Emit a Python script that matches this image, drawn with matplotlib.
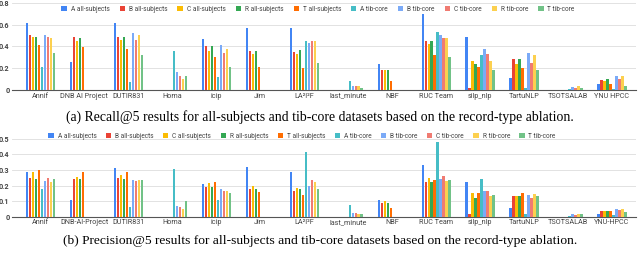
import numpy as np
import matplotlib
matplotlib.use('Agg')
import matplotlib.pyplot as plt

# Teams (x categories)
teams_recall = ['Annif', 'DNB AI Project', 'DUTIR831', 'Homa', 'icip', 'Jim', 'LA²I²F',
                'last_minute', 'NBF', 'RUC Team', 'silp_nlp', 'TartuNLP', 'TSOTSALAB', 'YNU HPCC']
teams_prec = ['Annif', 'DNB-AI-Project', 'DUTIR831', 'Homa', 'icip', 'Jim', 'LA²I²F',
              'last_minute', 'NBF', 'RUC Team', 'silp_nlp', 'TartuNLP', 'TSOTSALAB', 'YNU-HPCC']

series_names = ['A all-subjects', 'B all-subjects', 'C all-subjects', 'R all-subjects', 'T all-subjects',
                'A tib-core', 'B tib-core', 'C tib-core', 'R tib-core', 'T tib-core']
colors = ['#4285F4', '#EA4335', '#FBBC04', '#34A853', '#FF6D01',
          '#46BDC6', '#7BAAF7', '#F07B72', '#FCD04F', '#71C287']

n = None
# Recall@5, one row per team, columns follow series_names
recall = [
    [0.61, 0.50, 0.49, 0.49, 0.41, 0.21, 0.50, 0.49, 0.48, 0.34],  # Annif
    [0.26, 0.49, 0.45, 0.48, 0.39, n, n, n, n, n],                 # DNB AI Project
    [0.61, 0.49, 0.46, 0.49, 0.38, 0.07, 0.52, 0.46, 0.50, 0.32],  # DUTIR831
    [n, n, n, n, n, 0.36, 0.16, 0.13, 0.10, 0.13],                 # Homa
    [0.47, 0.40, 0.36, 0.40, 0.30, 0.12, 0.41, 0.34, 0.38, 0.21],  # icip
    [0.57, 0.36, 0.33, 0.36, 0.21, n, n, n, n, n],                 # Jim
    [0.57, 0.35, 0.33, 0.37, 0.20, 0.45, 0.43, 0.45, 0.45, 0.25],  # LA2I2F
    [n, n, n, n, n, 0.08, 0.04, 0.04, 0.04, 0.02],                 # last_minute
    [0.24, 0.18, 0.18, 0.18, 0.08, n, n, n, n, n],                 # NBF
    [0.70, 0.45, 0.42, 0.45, 0.32, 0.53, 0.50, 0.48, 0.48, 0.30],  # RUC Team
    [0.49, 0.02, 0.27, 0.24, 0.21, 0.32, 0.38, 0.33, 0.27, 0.18],  # silp_nlp
    [0.11, 0.28, 0.24, 0.28, 0.20, 0.02, 0.34, 0.25, 0.32, 0.18],  # TartuNLP
    [n, n, n, n, n, 0.01, 0.03, 0.02, 0.04, 0.02],                 # TSOTSALAB
    [0.05, 0.09, 0.08, 0.10, 0.05, 0.01, 0.13, 0.10, 0.13, 0.04],  # YNU HPCC
]

# Precision@5
precision = [
    [0.29, 0.25, 0.29, 0.24, 0.30, 0.18, 0.23, 0.25, 0.22, 0.245],     # Annif
    [0.11, 0.24, 0.255, 0.24, 0.29, n, n, n, n, n],                    # DNB-AI-Project
    [0.31, 0.25, 0.27, 0.24, 0.29, 0.06, 0.235, 0.23, 0.235, 0.235],   # DUTIR831
    [n, n, n, n, n, 0.305, 0.07, 0.06, 0.047, 0.10],                   # Homa
    [0.21, 0.19, 0.215, 0.19, 0.225, 0.11, 0.18, 0.165, 0.165, 0.155], # icip
    [0.32, 0.18, 0.20, 0.18, 0.16, n, n, n, n, n],                     # Jim
    [0.29, 0.165, 0.185, 0.175, 0.14, 0.415, 0.20, 0.235, 0.22, 0.18], # LA2I2F
    [n, n, n, n, n, 0.075, 0.025, 0.025, 0.02, 0.02],                  # last_minute
    [0.11, 0.085, 0.10, 0.085, 0.055, n, n, n, n, n],                  # NBF
    [0.33, 0.225, 0.25, 0.22, 0.235, 0.48, 0.245, 0.26, 0.23, 0.235],  # RUC Team
    [0.22, 0.015, 0.15, 0.12, 0.15, 0.245, 0.165, 0.165, 0.135, 0.14], # silp_nlp
    [0.055, 0.13, 0.135, 0.13, 0.15, 0.02, 0.14, 0.12, 0.145, 0.13],   # TartuNLP
    [n, n, n, n, n, 0.005, 0.017, 0.013, 0.015, 0.017],                # TSOTSALAB
    [0.02, 0.035, 0.035, 0.035, 0.035, 0.01, 0.05, 0.045, 0.047, 0.03],# YNU-HPCC
]

recall_ticks = [0, 0.2, 0.4, 0.6, 0.8]
prec_ticks = [0, 0.1, 0.2, 0.3, 0.4, 0.5]

plt.rcParams['font.family'] = ['Roboto', 'DejaVu Sans']

fig = plt.figure(figsize=(6.4, 2.54), dpi=100)


def draw(ax, teams, data, yticks, legend_y, legend_x, colspace):
    vals = np.array([[np.nan if v is None else v for v in row] for row in data], dtype=float)
    x = np.arange(len(teams))
    slot = 0.068
    for i, name in enumerate(series_names):
        offs = (i - 4.5) * slot
        ax.bar(x + offs, vals[:, i], width=0.05, color=colors[i], label=name, zorder=3)
    ax.set_xlim(-0.64, len(teams) - 1 + 0.55)
    ax.set_ylim(0, yticks[-1])
    ax.set_yticks(yticks)
    ax.set_yticklabels(['0' if t == 0 else f'{t:g}' for t in yticks], fontweight='bold')
    ax.set_xticks(x)
    ax.set_xticklabels(teams)
    ax.tick_params(axis='both', length=0, labelsize=5.2, colors='#444444', pad=2)
    ax.grid(axis='y', color='#dddddd', linewidth=0.6, zorder=0)
    for s in ['top', 'right', 'left']:
        ax.spines[s].set_visible(False)
    ax.spines['bottom'].set_color('#555555')
    ax.spines['bottom'].set_linewidth(0.8)
    ax.legend(loc='center', bbox_to_anchor=(legend_x, legend_y), bbox_transform=fig.transFigure,
              ncol=10, frameon=False, fontsize=4.7, handlelength=0.8, handleheight=0.8,
              handletextpad=0.6, columnspacing=colspace, labelcolor='#444444')


ax1 = fig.add_axes([0.019, 0.646, 0.975, 0.343])
draw(ax1, teams_recall, recall, recall_ticks, 1 - 9.5 / 254, 0.497, 1.55)
fig.text(0.5, 1 - 117 / 254, '(a) Recall@5 results for all-subjects and tib-core datasets based on the record-type ablation.',
         ha='center', va='center', fontsize=9.9, family='Liberation Serif')

ax2 = fig.add_axes([0.019, 0.147, 0.975, 0.306])
draw(ax2, teams_prec, precision, prec_ticks, 1 - 136 / 254, 0.472, 1.45)
fig.text(0.5, 1 - 241 / 254, '(b) Precision@5 results for all-subjects and tib-core datasets based on the record-type ablation.',
         ha='center', va='center', fontsize=9.7, family='Liberation Serif')

fig.savefig('out.png', dpi=100)
